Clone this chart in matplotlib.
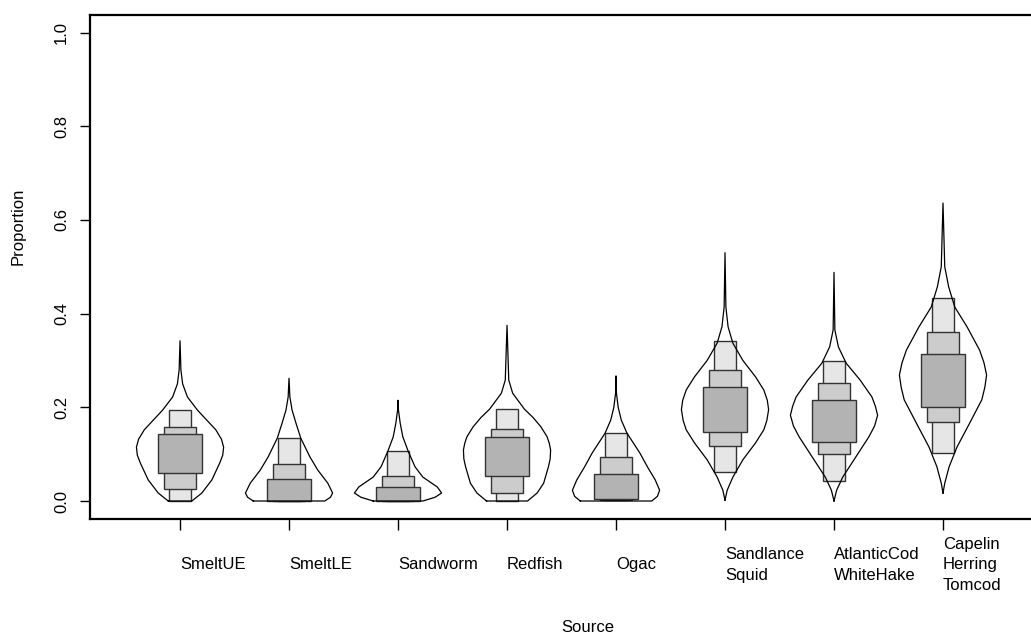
import numpy as np
import matplotlib
matplotlib.use('Agg')
import matplotlib.pyplot as plt

plt.rcParams['font.family'] = ['Liberation Sans', 'DejaVu Sans']
plt.rcParams['font.size'] = 12

# sources on the x axis
sources = ['SmeltUE', 'SmeltLE', 'Sandworm', 'Redfish', 'Ogac',
           'Sandlance\nSquid', 'AtlanticCod\nWhiteHake', 'Capelin\nHerring\nTomcod']

# highest density regions of the posterior proportions
hdr95_lo = [0.000, 0.000, 0.000, 0.000, 0.002, 0.062, 0.043, 0.102]
hdr95_hi = [0.194, 0.135, 0.107, 0.196, 0.145, 0.341, 0.299, 0.433]
hdr75_lo = [0.026, 0.000, 0.000, 0.017, 0.002, 0.117, 0.100, 0.168]
hdr75_hi = [0.158, 0.079, 0.053, 0.153, 0.094, 0.280, 0.251, 0.361]
hdr50_lo = [0.060, 0.000, 0.000, 0.053, 0.004, 0.148, 0.127, 0.200]
hdr50_hi = [0.143, 0.047, 0.030, 0.137, 0.058, 0.244, 0.216, 0.314]

# density outline of each source: proportion levels and relative half widths
violin_levels = [
    [0.000, 0.017, 0.045, 0.081, 0.098, 0.115, 0.132, 0.152, 0.172, 0.194, 0.222, 0.250, 0.280, 0.342],
    [0.000, 0.008, 0.017, 0.038, 0.066, 0.094, 0.134, 0.166, 0.194, 0.222, 0.262],
    [0.000, 0.008, 0.017, 0.030, 0.051, 0.073, 0.107, 0.137, 0.166, 0.194, 0.215],
    [0.000, 0.017, 0.038, 0.073, 0.090, 0.109, 0.123, 0.137, 0.158, 0.178, 0.196, 0.230, 0.258, 0.375],
    [0.000, 0.010, 0.023, 0.045, 0.073, 0.102, 0.145, 0.173, 0.200, 0.230, 0.267],
    [0.002, 0.023, 0.051, 0.088, 0.124, 0.152, 0.172, 0.195, 0.215, 0.237, 0.265, 0.300, 0.337, 0.372, 0.414, 0.530],
    [0.000, 0.023, 0.051, 0.094, 0.137, 0.160, 0.183, 0.202, 0.222, 0.258, 0.294, 0.329, 0.365, 0.488],
    [0.017, 0.038, 0.073, 0.115, 0.166, 0.216, 0.243, 0.269, 0.295, 0.322, 0.372, 0.414, 0.457, 0.500, 0.636],
]
violin_widths = [
    [0.27, 0.50, 0.73, 0.91, 0.98, 1.00, 0.95, 0.82, 0.62, 0.40, 0.17, 0.06, 0.02, 0.00],
    [0.82, 0.95, 1.00, 0.89, 0.66, 0.48, 0.27, 0.16, 0.07, 0.02, 0.00],
    [0.57, 0.85, 1.00, 0.90, 0.57, 0.39, 0.23, 0.11, 0.05, 0.01, 0.00],
    [0.47, 0.69, 0.84, 0.95, 0.99, 1.00, 0.97, 0.92, 0.78, 0.60, 0.40, 0.13, 0.04, 0.00],
    [0.82, 0.95, 1.00, 0.90, 0.72, 0.55, 0.25, 0.12, 0.05, 0.01, 0.00],
    [0.00, 0.05, 0.18, 0.41, 0.70, 0.89, 0.96, 1.00, 0.97, 0.89, 0.70, 0.41, 0.18, 0.07, 0.02, 0.00],
    [0.00, 0.06, 0.20, 0.50, 0.80, 0.93, 1.00, 0.95, 0.87, 0.60, 0.28, 0.10, 0.02, 0.00],
    [0.00, 0.04, 0.14, 0.32, 0.61, 0.89, 0.96, 1.00, 0.94, 0.84, 0.55, 0.27, 0.13, 0.04, 0.00],
]

xpos = np.arange(1, len(sources) + 1)

fig = plt.figure(figsize=(10.31, 6.39), dpi=100)
ax = fig.add_axes([90 / 1031, 120 / 639, 1000 / 1031, 504.3 / 639])

# nested hdr boxes, widest box for the narrowest interval
ax.bar(xpos, np.subtract(hdr95_hi, hdr95_lo), bottom=hdr95_lo, width=0.2,
       color='#e6e6e6', edgecolor='#333333', linewidth=1.0, zorder=2)
ax.bar(xpos, np.subtract(hdr75_hi, hdr75_lo), bottom=hdr75_lo, width=0.3,
       color='#cccccc', edgecolor='#333333', linewidth=1.0, zorder=3)
ax.bar(xpos, np.subtract(hdr50_hi, hdr50_lo), bottom=hdr50_lo, width=0.4,
       color='#b3b3b3', edgecolor='#333333', linewidth=1.0, zorder=4)

# violin outlines drawn over the boxes
for x0, lev, wid in zip(xpos, violin_levels, violin_widths):
    lev = np.array(lev)
    half = 0.4 * np.array(wid)
    xs = np.concatenate([x0 - half, (x0 + half)[::-1], [x0 - half[0]]])
    ys = np.concatenate([lev, lev[::-1], [lev[0]]])
    ax.plot(xs, ys, color='black', linewidth=0.9, zorder=5)

ax.set_xlim(0.174, 1 + (1090 - 180) / 109)
ax.set_ylim(-0.0384, 1.038)

ax.set_yticks([0.0, 0.2, 0.4, 0.6, 0.8, 1.0])
ax.set_yticklabels(['0.0', '0.2', '0.4', '0.6', '0.8', '1.0'], rotation=90, va='center')
ax.set_xticks(xpos)
ax.set_xticklabels(sources, ha='left', va='center', multialignment='left')
ax.tick_params(axis='x', length=8, width=1, pad=25)
ax.tick_params(axis='y', length=7, width=1, pad=8)
for lab in ax.get_xticklabels():
    lab.set_linespacing(1.45)

for sp in ax.spines.values():
    sp.set_linewidth(1.6)

fig.text(588 / 1031, 1 - 628 / 639, 'Source', ha='center', va='center')
fig.text(18 / 1031, 1 - 265 / 639, 'Proportion', rotation=90, ha='center', va='bottom')

fig.savefig('out.png', dpi=100)
